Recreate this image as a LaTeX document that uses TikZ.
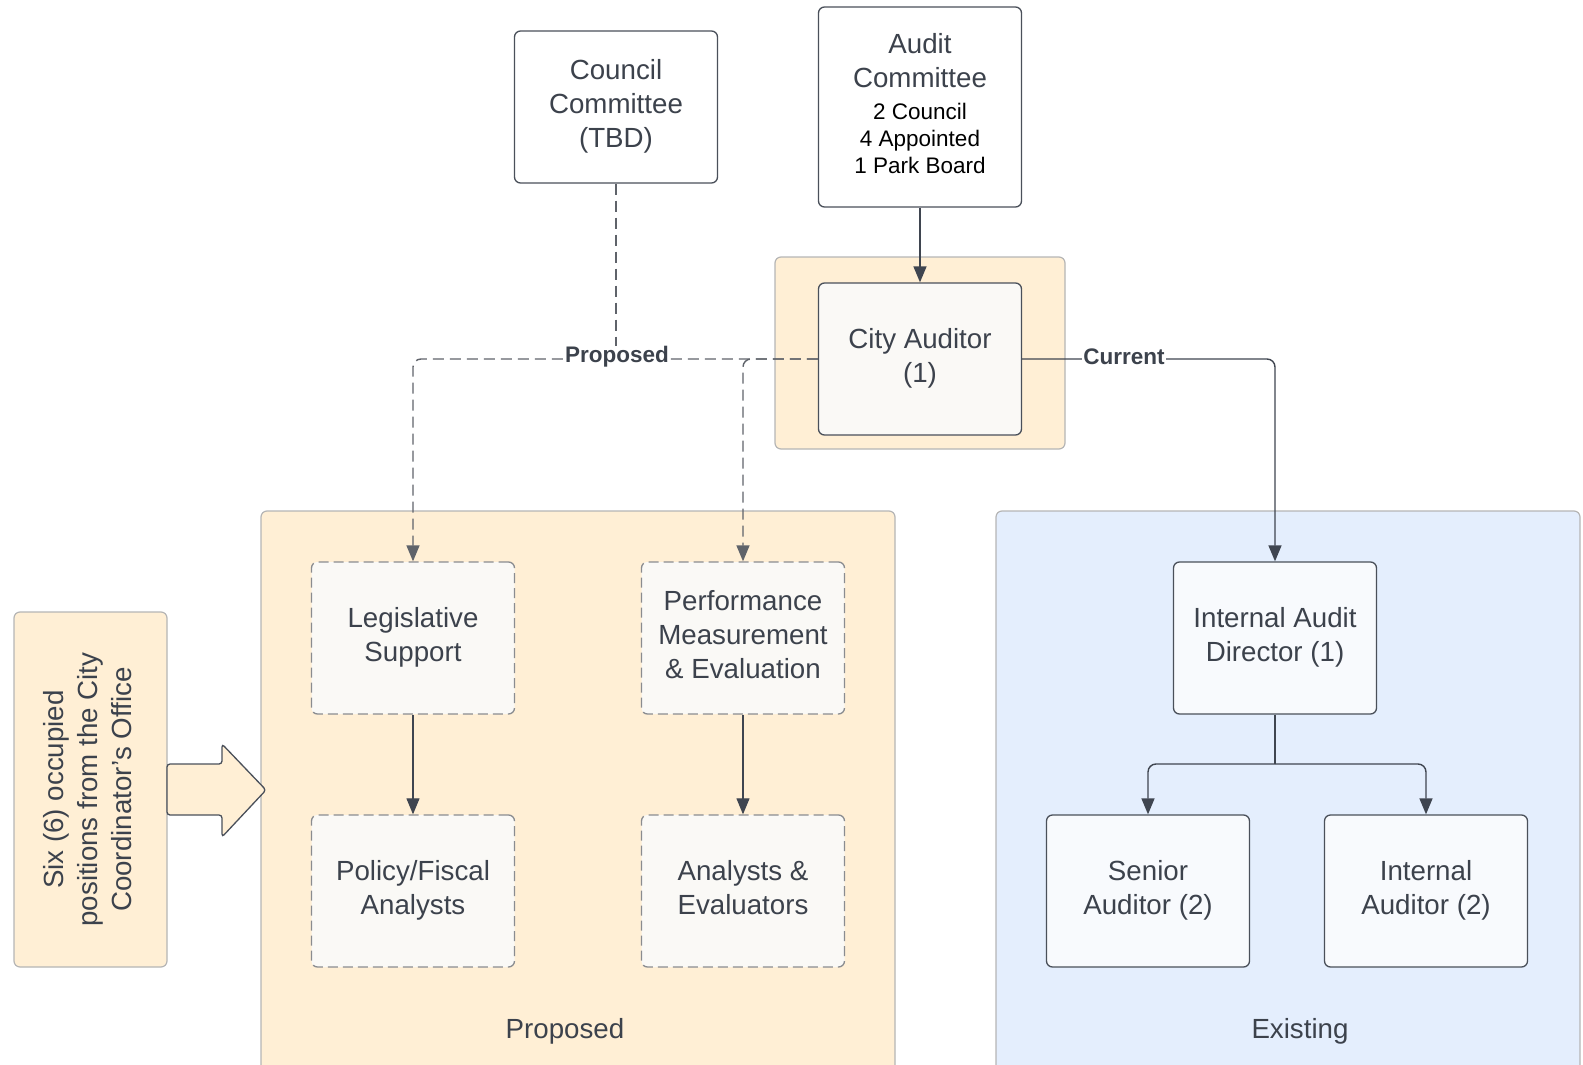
\documentclass[tikz,border=0pt]{standalone}
\usepackage{fontspec}
\setmainfont{Liberation Sans}
\usetikzlibrary{arrows.meta,calc}
\definecolor{txt}{HTML}{3C424C}
\definecolor{bord}{HTML}{4A505A}
\definecolor{dgray}{HTML}{8A8C90}
\definecolor{cgray}{HTML}{B5B5B5}
\definecolor{peach}{HTML}{FFEFD5}
\definecolor{bluef}{HTML}{E4EEFD}
\definecolor{offw}{HTML}{FAF9F6}
\definecolor{bluew}{HTML}{F8FAFD}
\definecolor{lnk}{HTML}{3F4550}
\definecolor{dlnk}{HTML}{5F636A}
\newcommand{\boxtxt}[1]{\begin{tabular}{@{}c@{}}#1\end{tabular}}
\newcommand{\smalltxt}{\fontsize{22.5}{27}\selectfont\color{black}}
\begin{document}
\begin{tikzpicture}[x=1pt,y=-1pt,
  mainfont/.style={font=\fontsize{27.7}{33.8}\selectfont},
  box/.style={draw=bord, line width=1.3pt, rounded corners=6pt,
    minimum width=203pt, minimum height=152pt, align=center, text=txt,
    mainfont, inner sep=0pt, fill=white},
  dbox/.style={box, draw=dgray, dash pattern=on 10pt off 5pt, fill=offw},
  bbox/.style={box, fill=bluew},
  cont/.style={draw=cgray, line width=1.2pt, rounded corners=6pt},
  tip/.style={-{Triangle[length=16pt,width=13pt]}},
  sline/.style={draw=lnk, line width=1.4pt},
  dline/.style={draw=dlnk, line width=1.4pt, dash pattern=on 11pt off 6pt},
  lbl/.style={font=\fontsize{22.5}{26}\selectfont\bfseries, text=txt, fill=white, inner sep=1pt},
  clbl/.style={mainfont, text=txt}
]
\useasboundingbox (0,0) rectangle (1583,1065);
% containers
\draw[cont, fill=peach] (775,257) rectangle (1065,449);
\draw[cont, fill=peach] (261,511) rectangle (895,1090);
\draw[cont, fill=bluef] (996,511) rectangle (1580,1090);
\node[clbl] (proplabel) at (565,1031) {Proposed};
\node[clbl] (existlabel) at (1300,1031) {Existing};
% six box and arrow
\node[box, draw=cgray, line width=1.2pt, fill=peach, minimum width=153pt, minimum height=355pt] (six) at (90.5,789.5) {};
\node[rotate=90, text=txt, mainfont, inner sep=0pt] (sixtext) at (six.center) {\boxtxt{Six (6) occupied\\positions from the City\\Coordinator's Office}};
\draw[draw=bord, line width=1.3pt, fill=peach, rounded corners=3pt]
  (167,764) -- (222,764) -- (222,744) -- (266,790) -- (222,837) -- (222,815) -- (167,815) -- cycle;
% nodes
\node[box] (council) at (616,107) {\boxtxt{Council\\Committee\\(TBD)}};
\node[box, minimum height=200pt] (audit) at (920,107) {\boxtxt{Audit\\Committee\\[-2.5pt]{\smalltxt 2 Council}\\[-6.5pt]{\smalltxt 4 Appointed}\\[-6.5pt]{\smalltxt 1 Park Board}}};
\node[box, fill=offw] (cityaud) at (920,359) {\boxtxt{City Auditor\\(1)}};
\node[dbox] (legis) at (413,638) {\boxtxt{Legislative\\Support}};
\node[dbox] (perf) at (743,638) {\boxtxt{Performance\\Measurement\\\& Evaluation}};
\node[dbox] (policy) at (413,891) {\boxtxt{Policy/Fiscal\\Analysts}};
\node[dbox] (analysts) at (743,891) {\boxtxt{Analysts \&\\Evaluators}};
\node[bbox] (iad) at (1275,638) {\boxtxt{Internal Audit\\Director (1)}};
\node[bbox] (senior) at (1148,891) {\boxtxt{Senior\\Auditor (2)}};
\node[bbox] (intaud) at (1426,891) {\boxtxt{Internal\\Auditor (2)}};
% connectors
\coordinate (junc) at (616,358);
\coordinate (split) at (1275,764);
\draw[dline] (council.south) -- (junc);
\draw[dline, tip, rounded corners=8pt] (cityaud.west) -| (legis.north);
\draw[dline, tip, rounded corners=8pt] (cityaud.west) -| (perf.north);
\draw[sline, tip] (audit.south) -- (cityaud.north);
\draw[sline, tip, rounded corners=8pt] (cityaud.east) -| (iad.north);
\draw[sline, line width=1.1pt, tip] (legis.south) -- (policy.north);
\draw[sline, line width=1.1pt, tip] (perf.south) -- (analysts.north);
\draw[sline] (iad.south) -- (split);
\draw[sline, tip, rounded corners=8pt] (split) -| (senior.north);
\draw[sline, tip, rounded corners=8pt] (split) -| (intaud.north);
% connector labels
\node[lbl] (proposedlbl) at (617,357) {Proposed};
\node[lbl] (currentlbl) at (1124,357) {Current};
\end{tikzpicture}
\end{document}
